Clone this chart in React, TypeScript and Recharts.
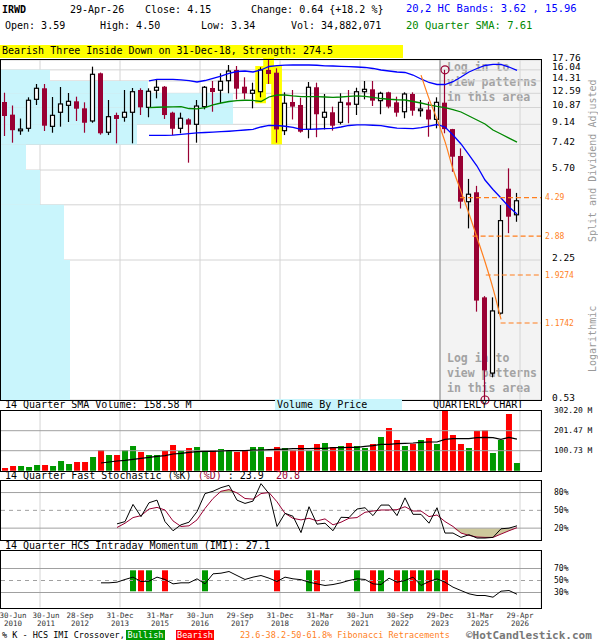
import React from "react";
import {
  ComposedChart,
  Bar,
  Line,
  Area,
  XAxis,
  YAxis,
  CartesianGrid,
  ReferenceArea,
  ReferenceLine,
  ReferenceDot,
  Cell,
} from "recharts";

const MONO = '"DejaVu Sans Mono", monospace';
const CRIMSON = "#990033";
const ORANGE = "#ff7f1e";
const BULL = "#009900";
const BEAR = "#ff0000";
const GRID = "#d4d4d4";
const PANEL_LINE = "#a0a0a0";
const VBP_FILL = "#c9f5fc";

// quarterly candles, 30-Jun-2010 .. 29-Apr-2026
const quarterOpen = [11.51, 10.1, 8.55, 8.77, 11.83, 13.26, 8.95, 10.35, 11.12, 11.59, 10.78, 9.46, 15.48, 8.42, 10.06, 9.83, 10.35, 13.03, 10.89, 12.99, 13.48, 10.31, 8.77, 9.62, 9.14, 10.97, 13.3, 12.99, 14.34, 16.03, 13.48, 12.59, 12.8, 16.03, 15.58, 8.56, 11.51, 11.16, 8.68, 13.4, 9.83, 10.35, 9.33, 11.47, 11.24, 12.8, 13.12, 11.67, 12.72, 11.47, 10.41, 12.5, 10.52, 10.64, 9.62, 11.43, 8.7, 6.59, 4.11, 4.53, 1.53, 0.7, 1.3, 4.7, 3.59];
const quarterHigh = [12.67, 11.1, 9.7, 12.08, 13.86, 13.86, 12.12, 13.44, 12.63, 12.16, 11.47, 16.58, 15.6, 11.75, 10.31, 13.03, 13.3, 13.26, 13.26, 14.47, 13.58, 10.41, 10.31, 9.73, 11.75, 13.58, 14.3, 15.48, 16.87, 16.69, 14.85, 14.05, 16.47, 18.5, 16.3, 12.72, 13.03, 12.03, 14.15, 14.05, 12.5, 10.97, 12.59, 13.03, 13.34, 14.3, 14.3, 12.8, 12.8, 12.16, 12.72, 12.72, 11.75, 11.54, 12.08, 16.04, 8.72, 7.13, 5.2, 4.84, 1.55, 1.53, 3.97, 5.8, 4.5];
const quarterLow = [8.1, 7.56, 8.2, 8.47, 11.16, 8.53, 8.38, 8.92, 9.36, 9.46, 8.38, 9.29, 8.21, 8.18, 7.51, 9.39, 7.51, 10.06, 9.83, 11.95, 9.66, 8.18, 8.33, 6.15, 7.56, 10.67, 10.41, 11.36, 12.59, 11.83, 11.83, 10.78, 12.08, 13.86, 7.56, 8.18, 9.61, 8.38, 7.91, 8.0, 8.67, 8.56, 9.13, 9.24, 10.06, 11.83, 11.04, 10.14, 10.78, 9.89, 9.73, 9.99, 9.89, 8.04, 8.77, 8.33, 5.6, 3.83, 3.12, 1.32, 0.53, 0.67, 1.28, 2.97, 3.34];
const quarterClose = [9.96, 8.6, 8.7, 11.72, 13.26, 9.01, 10.03, 11.28, 11.59, 10.74, 9.29, 15.32, 8.33, 9.89, 9.66, 10.35, 12.8, 10.89, 12.86, 13.4, 10.06, 8.73, 9.73, 9.11, 11.04, 13.4, 12.76, 14.25, 15.85, 13.21, 12.59, 12.99, 16.03, 15.37, 8.67, 11.36, 10.97, 8.47, 13.4, 10.14, 10.35, 9.01, 11.47, 11.12, 12.8, 13.12, 11.67, 12.59, 10.97, 10.31, 12.5, 10.52, 10.7, 9.61, 11.47, 8.7, 6.54, 4.11, 4.44, 1.48, 0.72, 1.33, 3.38, 3.52, 4.15];
// volume in millions of shares
const quarterVolume = [13.4, 23.5, 23.5, 18.5, 28.5, 28.5, 23.5, 48.7, 33.6, 43.7, 43.7, 68.8, 104.1, 78.9, 78.9, 104.1, 124.2, 94, 78.9, 78.9, 99.1, 129.3, 99.1, 114.2, 119.2, 99.1, 104.1, 109.1, 104.1, 94, 104.1, 119.2, 119.2, 68.8, 119.2, 114.2, 104, 129.3, 100.7, 134.3, 139.4, 119.2, 124.2, 139.4, 124.2, 114.2, 134.3, 169.6, 214.9, 154.5, 124.2, 136, 154.5, 164.5, 134.3, 302.2, 179.7, 134.3, 114.2, 199.8, 204.8, 89, 154.5, 285.4, 38.6];

// 20-quarter HC bands and SMA, from quarter 18
const BAND_START = 18;
const upperBand = [14.3, 14.55, 14.55, 14.55, 14.45, 14.34, 14.15, 14.37, 14.7, 15.05, 15.45, 15.77, 15.85, 15.69, 16.02, 16.61, 16.74, 16.83, 16.87, 16.87, 16.87, 16.82, 16.73, 16.69, 16.64, 16.58, 16.52, 16.44, 16.27, 16.02, 15.85, 15.69, 15.61, 15.21, 14.6, 14.08, 13.79, 13.79, 14.19, 14.9, 15.69, 16.27, 16.78, 16.99, 16.96, 16.52, 15.96];
const lowerBand = [8.16, 8.16, 8.16, 8.18, 8.24, 8.3, 8.36, 8.4, 8.44, 8.47, 8.51, 8.56, 8.62, 8.68, 8.89, 9.03, 9.03, 8.96, 8.85, 8.68, 8.68, 8.71, 8.74, 8.77, 8.89, 9.03, 9.08, 9.08, 9.05, 9.01, 8.89, 8.78, 8.77, 8.74, 8.83, 8.98, 9.12, 8.89, 8.18, 7.46, 6.66, 5.94, 5.14, 4.66, 4.27, 3.89, 3.62];
const sma20 = [10.85, 10.9, 10.93, 10.95, 10.96, 10.76, 10.71, 10.87, 11.16, 11.39, 11.57, 11.67, 11.72, 11.7, 11.57, 12.12, 12.37, 12.37, 12.25, 12.16, 12.16, 12.16, 12.12, 12.08, 12.12, 12.19, 12.25, 12.19, 12.06, 11.93, 11.84, 11.78, 11.75, 11.57, 11.39, 11.16, 10.99, 10.85, 10.65, 10.38, 9.96, 9.56, 9.17, 8.62, 8.27, 7.93, 7.61];

// fibonacci trend from the 2023 high into the 2025 low
const FIB_START = 52;
const fibTrend = [15.2, 11.92, 9.64, 7.64, 5.76, 4.57, 3.63, 2.84, 2.21, 1.68, 1.22];
const fibLevels = [4.29, 2.88, 1.9274, 1.1742];
const fibFrom = [56.875, 58.45, 60.1, 61.95];

// volume by price, millions per price band
const vbpEdges = [16.04, 14.31, 12.59, 10.87, 9.14, 7.42, 5.7, 3.98, 2.25, 0.53];
const vbpVolume = [250, 740, 1165, 1165, 685, 130, 200, 320, 350];
const VBP_PER_QUARTER = 40;

const VOL_SMA_START = 12;
const volumeSma14 = [38.6, 43.7, 48.7, 52, 57.1, 62.1, 67.2, 72.2, 75.6, 84, 87.3, 92.3, 95.7, 97.4, 97.4, 99.1, 100.7, 100.7, 100.7, 104.1, 104.1, 105.8, 107.5, 109.1, 110.8, 111.5, 111.5, 112.5, 112.5, 115.9, 115.9, 117.5, 117.5, 122.6, 125.9, 132.6, 132.6, 136, 137.7, 139.4, 142.7, 144.4, 144.4, 157.8, 161.2, 161.2, 161.2, 166.2, 167.9, 166.2, 157.8, 167.9, 158.58];

const STOCH_START = 14;
const stochK = [27.2, 31, 60, 39.4, 62.8, 67.2, 31, 15.6, 25.6, 30, 47.8, 78.3, 82.2, 88.3, 92.2, 67.2, 61.7, 65.6, 95, 78.3, 22.8, 45, 40, 12.5, 56.1, 26.7, 28.3, 15.6, 38.3, 37.8, 52.2, 54.4, 41.1, 58.9, 58.9, 41.1, 71.1, 43.3, 43.3, 28.3, 54.4, 11.7, 11.7, 4.4, 8.9, 3.3, 3.3, 4.4, 18.9, 20, 23.9];
const stochD = [21.1, 28.3, 37.8, 41.1, 52.2, 55, 50.6, 32.2, 22.8, 23.9, 33.9, 53.3, 70, 82.2, 85, 79.4, 70, 68.9, 78.3, 80, 64.4, 45, 36.5, 33.9, 36.7, 32.2, 35.6, 25.6, 30, 36.7, 37.8, 46.7, 48.9, 50.6, 50.6, 51.1, 56.1, 48.9, 48.9, 39.4, 42.2, 31.1, 22.8, 11.7, 7.8, 5, 4.4, 4.4, 10, 15.6, 20.8];

const IMI_START = 12;
const imiValues = [46.1, 46.1, 47.2, 51.7, 55.6, 48.3, 48.9, 55.6, 51.7, 44.4, 46.1, 46.1, 52.8, 44.4, 61.1, 62.2, 65, 58.3, 51.7, 55.6, 58.3, 53.9, 48.3, 55.6, 52.8, 51.4, 47.2, 44.4, 41.7, 43.3, 46.1, 50, 52.8, 51.7, 44.4, 43.3, 53.9, 47.2, 50, 55.6, 41.7, 48.3, 52.8, 47.2, 38.9, 33.3, 27.8, 25, 25, 22.2, 32.2, 33.3, 27.1];
const imiBullish = [16, 18, 25, 38, 44, 47, 50, 52, 54];
const imiBearish = [17, 20, 34, 39, 46, 49, 51, 53, 55];
const IMI_MARK = [32, 67];

// Bearish Three Inside Down, quarters 32-34
const patternQuarters = [32, 33, 34];
const patternLow = [11.36, 13.86, 7.43];
const patternHigh = [16.7, 18.6, 16.7];

const priceTicks = [0.53, 2.25, 3.98, 5.7, 7.42, 9.14, 10.87, 12.59, 14.31, 16.04, 17.76];
const HIDDEN_PRICE_TICK = 3.98;

const labelQuarter = [0, 4, 9, 14, 19, 24, 29, 34, 39, 44, 49, 54, 59, 64];
const labelDay = ["30-Jun", "30-Jun", "28-Sep", "31-Dec", "31-Mar", "30-Jun", "29-Sep", "31-Dec", "31-Mar", "30-Jun", "30-Sep", "29-Dec", "31-Mar", "29-Apr"];
const labelYear = ["2010", "2011", "2012", "2013", "2015", "2016", "2017", "2018", "2020", "2021", "2022", "2023", "2025", "2026"];

// quarter slots are 8px wide; grid and labels sit on the slot's right edge
const SLOT_EDGE = 0.375;
const X_DOMAIN: [number, number] = [-0.625, 67];
const labelTicks = labelQuarter.map((q) => q + SLOT_EDGE);
const gridTicks = labelTicks.slice(1);
const LOGIN_FROM = 54 + SLOT_EDGE;

const pick = (arr: number[], start: number, i: number) =>
  i >= start && i - start < arr.length ? arr[i - start] : null;

const rows = quarterOpen.map((open, i) => {
  const d = pick(stochD, STOCH_START, i);
  const bull = imiBullish.includes(i);
  const bear = imiBearish.includes(i);
  return {
    i,
    open,
    high: quarterHigh[i],
    low: quarterLow[i],
    close: quarterClose[i],
    range: [quarterLow[i], quarterHigh[i]],
    volume: quarterVolume[i],
    volSma: pick(volumeSma14, VOL_SMA_START, i),
    upper: pick(upperBand, BAND_START, i),
    lower: pick(lowerBand, BAND_START, i),
    sma: pick(sma20, BAND_START, i),
    fib: pick(fibTrend, FIB_START, i),
    k: pick(stochK, STOCH_START, i),
    d,
    overbought: d == null ? null : [80, Math.max(80, d)],
    oversold: d == null ? null : [Math.min(20, d), 20],
    imi: pick(imiValues, IMI_START, i),
    imiMark: bull || bear ? IMI_MARK : null,
    imiColor: bull ? BULL : BEAR,
  };
});

const CandleShape = (props: any) => {
  const { x, y, width, height } = props;
  const c = props.payload ?? props;
  if (c == null || !Number.isFinite(y) || !Number.isFinite(height)) return <g />;
  const lh = Math.log(c.high);
  const ll = Math.log(c.low);
  const yOf = (v: number) => y + ((lh - Math.log(v)) / (lh - ll)) * height;
  const cx = x + width / 2;
  const up = c.close >= c.open;
  const top = yOf(Math.max(c.open, c.close));
  const bot = yOf(Math.min(c.open, c.close));
  const h = Math.max(bot - top, 1);
  return (
    <g>
      <line x1={cx} x2={cx} y1={y} y2={y + height} stroke={up ? "#000" : CRIMSON} strokeWidth={1.2} />
      {up ? (
        <rect x={x + 0.5} y={top} width={width - 1} height={h} fill="#fff" stroke="#000" strokeWidth={1.2} />
      ) : (
        <rect x={x} y={top} width={width} height={h} fill={CRIMSON} />
      )}
    </g>
  );
};

const PriceTick = (props: any) => {
  const { x, y, payload } = props;
  if (payload.value === HIDDEN_PRICE_TICK) return <g />;
  return (
    <text x={x + 9} y={y - 3} dominantBaseline="central" fontFamily={MONO} fontSize={9.5} fill="#000">
      {payload.value.toFixed(2)}
    </text>
  );
};

const PanelTick = (props: any) => {
  const { x, y, payload, fmt } = props;
  return (
    <text x={x + 11} y={y} dominantBaseline="central" fontFamily={MONO} fontSize={8} fill="#000">
      {fmt(payload.value)}
    </text>
  );
};

const DateTick = (props: any) => {
  const { x, y, payload } = props;
  const k = labelTicks.indexOf(payload.value);
  if (k < 0) return <g />;
  const cx = Math.max(x, 13 + 33 * k);
  return (
    <g fontFamily={MONO} fontSize={7.5} fill="#333">
      <text x={cx} y={y + 5.5} textAnchor="middle" dominantBaseline="central">{labelDay[k]}</text>
      <text x={cx} y={y + 14} textAnchor="middle" dominantBaseline="central">{labelYear[k]}</text>
    </g>
  );
};

const Txt = ({ x, y, children, color = "#000", size = 10, weight = 400 }: any) => (
  <div
    style={{
      position: "absolute",
      left: x,
      top: y,
      color,
      fontSize: size,
      fontWeight: weight,
      fontFamily: MONO,
      lineHeight: 1,
      whiteSpace: "pre",
    }}
  >
    {children}
  </div>
);

const Frame = ({ top, height }: { top: number; height: number }) => (
  <div
    style={{
      position: "absolute",
      left: 0,
      top,
      width: 542,
      height,
      border: "1.5px solid #000",
      boxSizing: "border-box",
      pointerEvents: "none",
    }}
  />
);

const pct = (v: number) => `${v}%`;
const mil = (v: number) => `${v.toFixed(2)} M`;

export default function App() {
  return (
    <div style={{ position: "absolute", left: 0, top: 0, width: 600, height: 640, background: "#fff", overflow: "hidden" }}>
      {/* locked area behind the price candles */}
      <div style={{ position: "absolute", left: 440, top: 60, width: 101, height: 340, background: "#f3f3f3" }} />
      {["Log in to", "view patterns", "in this area"].map((s, n) => (
        <Txt key={"a" + n} x={447} y={62 + n * 15} size={11.5} weight={700} color="#a3a3a3">{s}</Txt>
      ))}
      {["Log in to", "view patterns", "in this area"].map((s, n) => (
        <Txt key={"b" + n} x={447} y={353 + n * 15} size={11.5} weight={700} color="#a3a3a3">{s}</Txt>
      ))}

      {/* price */}
      <div style={{ position: "absolute", left: 0, top: 50 }}>
        <ComposedChart width={600} height={355} data={rows} margin={{ top: 10, right: 0, bottom: 5, left: 0 }}>
          <CartesianGrid stroke={GRID} />
          <XAxis type="number" dataKey="i" domain={X_DOMAIN} ticks={gridTicks} hide height={0} allowDataOverflow />
          <YAxis
            orientation="right"
            width={59}
            scale="log"
            domain={[0.53, 17.76]}
            ticks={priceTicks}
            allowDataOverflow
            axisLine={false}
            tickLine={false}
            tickSize={0}
            interval={0}
            tick={<PriceTick />}
          />
          {vbpVolume.map((v, k) => (
            <ReferenceArea
              key={"vbp" + k}
              x1={X_DOMAIN[0]}
              x2={X_DOMAIN[0] + v / VBP_PER_QUARTER}
              y1={vbpEdges[k + 1]}
              y2={vbpEdges[k]}
              fill={VBP_FILL}
              fillOpacity={1}
              stroke="none"
            />
          ))}
          {patternQuarters.map((q, k) => (
            <ReferenceArea
              key={"pat" + k}
              x1={q - 0.72}
              x2={q + 0.62}
              y1={patternLow[k]}
              y2={patternHigh[k]}
              fill="#ffff00"
              fillOpacity={1}
              stroke="none"
              ifOverflow="visible"
            />
          ))}
          <ReferenceLine x={LOGIN_FROM} stroke="#8c8c8c" strokeWidth={1} />
          <Bar dataKey="range" barSize={5} isAnimationActive={false} shape={(p: any) => <CandleShape {...p} />} />
          <Line dataKey="upper" stroke="#0000ff" strokeWidth={1.3} dot={false} isAnimationActive={false} />
          <Line dataKey="lower" stroke="#0000ff" strokeWidth={1.3} dot={false} isAnimationActive={false} />
          <Line dataKey="sma" stroke="#008800" strokeWidth={1.3} dot={false} isAnimationActive={false} />
          <Line dataKey="fib" type="monotone" stroke={ORANGE} strokeWidth={1.2} dot={false} isAnimationActive={false} />
          {fibLevels.map((lv, k) => (
            <ReferenceLine
              key={"fib" + k}
              segment={[
                { x: fibFrom[k], y: lv },
                { x: X_DOMAIN[1], y: lv },
              ]}
              stroke={ORANGE}
              strokeDasharray="5 3"
              strokeWidth={1.2}
              label={{ value: String(lv), position: "right", offset: 4, fill: ORANGE, fontSize: 8, fontFamily: MONO }}
            />
          ))}
          <ReferenceDot x={55} y={16.04} r={4} fill="none" stroke={CRIMSON} strokeWidth={1.2} />
          <ReferenceDot x={60} y={0.53} r={4} fill="none" stroke={CRIMSON} strokeWidth={1.2} />
        </ComposedChart>
      </div>

      {/* volume */}
      <div style={{ position: "absolute", left: 0, top: 405 }}>
        <ComposedChart width={600} height={68.7} data={rows} margin={{ top: 5.7, right: 0, bottom: 3, left: 0 }}>
          <CartesianGrid stroke={GRID} horizontal={false} />
          <XAxis type="number" dataKey="i" domain={X_DOMAIN} ticks={gridTicks} hide height={0} allowDataOverflow />
          <YAxis
            orientation="right"
            width={59}
            domain={[0, 302.2]}
            ticks={[100.73, 201.47, 302.2]}
            interval={0}
            axisLine={false}
            tickLine={false}
            tickSize={0}
            tick={<PanelTick fmt={mil} />}
          />
          <ReferenceLine y={100.73} stroke={PANEL_LINE} />
          <ReferenceLine y={201.47} stroke={PANEL_LINE} />
          <Bar dataKey="volume" barSize={6} isAnimationActive={false}>
            {rows.map((r) => (
              <Cell key={r.i} fill={r.close >= r.open ? BULL : BEAR} />
            ))}
          </Bar>
          <Line dataKey="volSma" stroke="#000" strokeWidth={1.2} dot={false} isAnimationActive={false} />
        </ComposedChart>
      </div>

      {/* fast stochastic */}
      <div style={{ position: "absolute", left: 0, top: 475 }}>
        <ComposedChart width={600} height={68} data={rows} margin={{ top: 5.7, right: 0, bottom: 3, left: 0 }}>
          <CartesianGrid stroke={GRID} horizontal={false} />
          <XAxis type="number" dataKey="i" domain={X_DOMAIN} ticks={gridTicks} hide height={0} allowDataOverflow />
          <YAxis
            orientation="right"
            width={59}
            domain={[0, 100]}
            ticks={[20, 50, 80]}
            interval={0}
            axisLine={false}
            tickLine={false}
            tickSize={0}
            tick={<PanelTick fmt={pct} />}
          />
          <ReferenceLine y={20} stroke={PANEL_LINE} />
          <ReferenceLine y={50} stroke={PANEL_LINE} strokeDasharray="4 4" />
          <ReferenceLine y={80} stroke={PANEL_LINE} />
          <Area dataKey="overbought" stroke="none" fill="#cdc89c" fillOpacity={1} isAnimationActive={false} />
          <Area dataKey="oversold" stroke="none" fill="#cdc89c" fillOpacity={1} isAnimationActive={false} />
          <Line dataKey="d" stroke={CRIMSON} strokeWidth={1} dot={false} isAnimationActive={false} />
          <Line dataKey="k" stroke="#000" strokeWidth={1} dot={false} isAnimationActive={false} />
        </ComposedChart>
      </div>

      {/* intraday momentum */}
      <div style={{ position: "absolute", left: 0, top: 545 }}>
        <ComposedChart width={600} height={92.5} data={rows} margin={{ top: 5.5, right: 0, bottom: 0, left: 0 }}>
          <CartesianGrid stroke={GRID} horizontal={false} />
          <XAxis type="number" dataKey="i" domain={X_DOMAIN} ticks={gridTicks} hide height={0} allowDataOverflow />
          <XAxis
            xAxisId="dates"
            type="number"
            dataKey="i"
            domain={X_DOMAIN}
            ticks={labelTicks}
            interval={0}
            allowDataOverflow
            axisLine={false}
            tickLine={false}
            tickSize={0}
            height={30}
            tick={<DateTick />}
          />
          <YAxis
            orientation="right"
            width={59}
            domain={[5, 100]}
            ticks={[30, 50, 70]}
            interval={0}
            axisLine={false}
            tickLine={false}
            tickSize={0}
            tick={<PanelTick fmt={pct} />}
          />
          <ReferenceLine y={30} stroke={PANEL_LINE} />
          <ReferenceLine y={50} stroke={PANEL_LINE} strokeDasharray="4 4" />
          <ReferenceLine y={70} stroke={PANEL_LINE} />
          <Bar dataKey="imiMark" barSize={6} isAnimationActive={false}>
            {rows.map((r) => (
              <Cell key={r.i} fill={r.imiColor} />
            ))}
          </Bar>
          <Line dataKey="imi" stroke="#000" strokeWidth={1} dot={false} isAnimationActive={false} />
        </ComposedChart>
      </div>

      <Frame top={59} height={342} />
      <Frame top={410} height={61.5} />
      <Frame top={480} height={61} />
      <Frame top={550} height={58.5} />

      {/* header */}
      <Txt x={2} y={5} weight={700}>IRWD</Txt>
      <Txt x={70} y={5}>29-Apr-26</Txt>
      <Txt x={145} y={5}>Close: 4.15</Txt>
      <Txt x={251} y={5}>{"Change: 0.64 {+18.2 %}"}</Txt>
      <Txt x={406} y={3} color="#0000ff" size={10.5}>20,2 HC Bands: 3.62 , 15.96</Txt>
      <Txt x={5} y={21}>Open: 3.59</Txt>
      <Txt x={100} y={21}>High: 4.50</Txt>
      <Txt x={201} y={21}>Low: 3.34</Txt>
      <Txt x={291} y={21}>Vol: 34,882,071</Txt>
      <Txt x={406} y={20} color="#008800" size={10.5}>20 Quarter SMA: 7.61</Txt>

      <div style={{ position: "absolute", left: 0, top: 45, width: 403, height: 13, background: "#ffff00" }} />
      <Txt x={2} y={46}>Bearish Three Inside Down on 31-Dec-18, Strength: 274.5</Txt>

      {/* side notes */}
      <div
        style={{
          position: "absolute",
          left: 588,
          top: 80,
          height: 162,
          writingMode: "vertical-rl",
          transform: "rotate(180deg)",
          fontFamily: MONO,
          fontSize: 10,
          color: "#9a9a9a",
          whiteSpace: "pre",
          lineHeight: 1,
        }}
      >
        Split and Dividend Adjusted
      </div>
      <div
        style={{
          position: "absolute",
          left: 588,
          top: 305,
          height: 67,
          writingMode: "vertical-rl",
          transform: "rotate(180deg)",
          fontFamily: MONO,
          fontSize: 10,
          color: "#9a9a9a",
          whiteSpace: "pre",
          lineHeight: 1,
        }}
      >
        Logarithmic
      </div>

      {/* panel titles */}
      <Txt x={5} y={400}>14 Quarter SMA Volume: 158.58 M</Txt>
      <div
        style={{
          position: "absolute",
          left: 275,
          top: 399,
          width: 127,
          height: 11,
          background: VBP_FILL,
          fontFamily: MONO,
          fontSize: 10,
          lineHeight: "11px",
          paddingLeft: 2,
          boxSizing: "border-box",
          whiteSpace: "pre",
        }}
      >
        Volume By Price
      </div>
      <Txt x={433} y={400}>QUARTERLY CHART</Txt>
      <div style={{ position: "absolute", left: 5, top: 470.5, fontFamily: MONO, fontSize: 10, lineHeight: 1, whiteSpace: "pre" }}>
        {"14 Quarter Fast Stochastic (%K) "}
        <span style={{ color: CRIMSON }}>(%D)</span>
        {" : 23.9  "}
        <span style={{ color: CRIMSON }}>20.8</span>
      </div>
      <Txt x={5} y={540.5}>14 Quarter HCS Intraday Momentum (IMI): 27.1</Txt>

      {/* footer */}
      <Txt x={2} y={631} size={8.5}>% K - HCS IMI Crossover,</Txt>
      <div style={{ position: "absolute", left: 126, top: 629.5, width: 39, height: 10.5, background: BULL, color: "#fff", fontFamily: MONO, fontSize: 8.5, lineHeight: "10.5px", textAlign: "center" }}>
        Bullish
      </div>
      <div style={{ position: "absolute", left: 176, top: 629.5, width: 38, height: 10.5, background: BEAR, color: "#fff", fontFamily: MONO, fontSize: 8.5, lineHeight: "10.5px", textAlign: "center" }}>
        Bearish
      </div>
      <Txt x={240} y={631} size={8.5} color={ORANGE}>23.6-38.2-50-61.8% Fibonacci Retracements</Txt>
      <Txt x={466} y={629.5} size={11} weight={700} color="#777">©HotCandlestick.com</Txt>
    </div>
  );
}
